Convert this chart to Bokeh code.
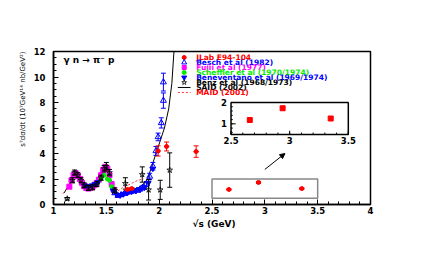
import numpy as np
from bokeh.plotting import figure
from bokeh.models import FixedTicker, Range1d, Label, Arrow, NormalHead, Title
from bokeh.core.properties import value
from bokeh.embed import file_html
from bokeh.resources import INLINE

# ---------------- data ----------------
x_ticks = [1.0, 1.5, 2.0, 2.5, 3.0, 3.5, 4.0]
x_tick_labels = ["1", "1.5", "2", "2.5", "3", "3.5", "4"]
y_ticks = [0, 2, 4, 6, 8, 10, 12]
y_tick_labels = ["0", "2", "4", "6", "8", "10", "12"]

jlab_x = [1.70, 1.74, 1.99, 2.07, 2.35, 2.66, 2.94, 3.35]
jlab_y = [1.18, 1.25, 4.20, 4.55, 4.15, 1.18, 1.73, 1.25]
jlab_e = [0.08, 0.08, 0.40, 0.35, 0.45, 0.05, 0.08, 0.06]

besch_x = [1.58, 1.61, 1.64, 1.67, 1.70, 1.73, 1.76, 1.79, 1.82, 1.85, 1.88, 1.91, 1.94, 1.97, 1.99, 2.02, 2.04, 2.04]
besch_y = [0.90, 0.70, 0.75, 0.85, 0.95, 1.00, 1.05, 1.10, 1.20, 1.35, 1.60, 2.20, 3.00, 4.20, 5.30, 6.40, 8.15, 9.60]
besch_e = [0.10, 0.10, 0.10, 0.10, 0.10, 0.10, 0.10, 0.10, 0.12, 0.15, 0.20, 0.25, 0.30, 0.35, 0.30, 0.40, 0.60, 0.70]

fujii_x = [1.15, 1.17, 1.19, 1.21, 1.23, 1.25, 1.27, 1.29, 1.31, 1.33, 1.35, 1.37, 1.39, 1.41, 1.43, 1.45, 1.47, 1.49, 1.51, 1.53, 1.55, 1.57]
fujii_y = [1.40, 1.90, 2.30, 2.45, 2.25, 2.00, 1.70, 1.45, 1.30, 1.25, 1.30, 1.40, 1.55, 1.70, 1.95, 2.30, 2.70, 2.95, 2.80, 2.30, 1.60, 1.15]
fujii_e = [0.15] * 22

scheffler_x = [1.42, 1.45, 1.48, 1.51, 1.53, 1.55, 1.57]
scheffler_y = [1.70, 2.00, 2.30, 2.00, 1.90, 1.40, 1.10]

benev_x = [1.30, 1.33, 1.36, 1.39, 1.42, 1.56, 1.60, 1.63, 1.66, 1.70, 1.74, 1.78, 1.82, 1.86, 1.90, 1.94]
benev_y = [1.50, 1.45, 1.50, 1.60, 1.75, 1.10, 0.75, 0.70, 0.80, 0.90, 1.00, 1.05, 1.15, 1.30, 1.70, 2.80]

benz_x = [1.13, 1.18, 1.20, 1.23, 1.26, 1.29, 1.33, 1.37, 1.41, 1.45, 1.48, 1.50, 1.53, 1.58, 1.68, 1.84, 1.90, 2.01, 2.10]
benz_y = [0.45, 1.90, 2.50, 2.30, 1.90, 1.50, 1.30, 1.35, 1.60, 2.10, 2.80, 3.00, 2.50, 1.10, 1.65, 2.35, 1.15, 1.15, 2.70]
benz_e = [0.10, 0.20, 0.20, 0.20, 0.20, 0.20, 0.20, 0.20, 0.20, 0.20, 0.25, 0.30, 0.25, 0.20, 0.45, 0.60, 0.80, 0.75, 1.35]

said_x = [1.10, 1.15, 1.20, 1.22, 1.25, 1.30, 1.35, 1.40, 1.45, 1.48, 1.50, 1.53, 1.56, 1.60, 1.65, 1.70, 1.75, 1.80, 1.85, 1.89, 1.93, 1.97, 2.01, 2.05, 2.09, 2.12, 2.14]
said_y = [0.90, 1.60, 2.30, 2.40, 2.10, 1.40, 1.25, 1.50, 2.20, 2.80, 2.90, 2.30, 1.30, 0.80, 0.90, 1.10, 1.20, 1.30, 1.60, 2.00, 3.00, 4.00, 5.00, 6.00, 7.50, 9.50, 12.0]

maid_x = [1.09, 1.14, 1.18, 1.21, 1.24, 1.28, 1.32, 1.36, 1.40, 1.44, 1.48, 1.50, 1.53, 1.56, 1.60, 1.65, 1.70, 1.75, 1.80, 1.85]
maid_y = [0.85, 1.35, 2.00, 2.35, 2.20, 1.65, 1.30, 1.30, 1.60, 2.20, 2.85, 2.95, 2.40, 1.50, 1.00, 1.30, 1.50, 1.70, 1.90, 2.00]

inset_x_ticks = [2.5, 3.0, 3.5]
inset_x_labels = ["2.5", "3", "3.5"]
inset_y_ticks = [1.0, 2.0]
inset_y_labels = ["1", "2"]

legend_labels = ["JLab E94-104", "Besch et al (1982)", "Fujii et al (1977)",
                 "Scheffler et al (1970/1974)", "Beneventano et al (1969/1974)",
                 "Benz et al (1968/1973)", "SAID (2002)", "MAID (2001)"]
legend_colors = ["#ff0000", "#0000ff", "#ff00ff", "#00ee00", "#0000ff", "#000000", "#000000", "#ff0000"]

x_title = "√s (GeV)"
y_title = "s⁷dσ/dt (10⁷GeV¹⁴ nb/GeV²)"
reaction = "γ n → π⁻ p"

# ---------------- layout constants ----------------
FONT = "DejaVu Sans"
X0, X1, Y0, Y1 = 1.0, 4.0, 0.0, 12.0
INS_MX = (2.68, 3.79)
INS_MY = (5.49, 8.0)
INS_X = (2.5, 3.5)
INS_Y = (0.5, 2.0)

p = figure(width=430, height=265, x_range=Range1d(X0, X1), y_range=Range1d(Y0, Y1),
           output_backend="svg", toolbar_location=None,
           min_border_left=53, min_border_right=60, min_border_top=51, min_border_bottom=61,
           background_fill_color="white", border_fill_color="white")
p.grid.visible = False
p.outline_line_color = "black"
p.outline_line_width = 1.5

for ax, ticks, labels in ((p.xaxis, x_ticks, x_tick_labels), (p.yaxis, y_ticks, y_tick_labels)):
    ax.major_tick_in = 5
    ax.major_tick_out = 0
    ax.minor_tick_in = 3
    ax.minor_tick_out = 0
    ax.axis_line_width = 1.5
    ax.major_tick_line_width = 1
    ax.major_label_text_font = FONT
    ax.major_label_text_font_style = "bold"
    ax.major_label_text_font_size = "8.5px"
    ax.major_label_text_color = "black"
    ax.major_label_overrides = {t: l for t, l in zip(ticks, labels)}

p.xaxis.ticker = FixedTicker(ticks=x_ticks, minor_ticks=list(np.round(np.arange(1.0, 4.001, 0.1), 2)))
p.yaxis.ticker = FixedTicker(ticks=y_ticks, minor_ticks=list(np.arange(0, 12.01, 0.5)))
p.xaxis.major_label_standoff = 2
p.yaxis.major_label_standoff = 8

# axis titles as side titles (end-aligned like ROOT)
p.add_layout(Title(text=y_title, align="right", text_font=FONT, text_font_size="7px",
                   text_font_style="normal", text_color="black", standoff=8, offset=0), "left")
p.add_layout(Title(text=x_title, align="left", offset=139, text_font=FONT, text_font_size="9px",
                   text_font_style="bold", text_color="black", standoff=0), "below")

# ---------------- curves ----------------
p.line(said_x, said_y, line_color="black", line_width=1)
p.line(maid_x, maid_y, line_color="#ff0000", line_width=1, line_dash="2 2", line_alpha=0.8)


def errbars(xs, ys, es, color, cap=4, xerr=None):
    lo = [y - e for y, e in zip(ys, es)]
    hi = [y + e for y, e in zip(ys, es)]
    p.segment(xs, lo, xs, hi, line_color=color, line_width=1)
    p.scatter(xs + xs, lo + hi, marker="dash", size=cap, line_color=color, line_width=1)
    if xerr is not None:
        p.segment([x - xerr for x in xs], ys, [x + xerr for x in xs], ys, line_color=color, line_width=1)


errbars(fujii_x, fujii_y, fujii_e, "#ff00ff", cap=3)
p.scatter(fujii_x, fujii_y, marker="square", size=5, fill_color="#ff00ff", line_color="#ff00ff")
p.scatter(scheffler_x, scheffler_y, marker="circle", size=4, fill_color="#00ee00", line_color="#00ee00")
p.scatter(benev_x, benev_y, marker="inverted_triangle", size=5, fill_color="#0000ff", line_color="#0000ff")
errbars(besch_x, besch_y, besch_e, "#0000ff", cap=5)
p.scatter(besch_x, besch_y, marker="triangle", size=6, fill_color="white", fill_alpha=0.0,
          line_color="#0000ff", line_width=1)
errbars(benz_x, benz_y, benz_e, "black", cap=5)
p.scatter(benz_x, benz_y, marker="star", size=6, fill_color="white", fill_alpha=0.0,
          line_color="black", line_width=0.8)
errbars(jlab_x, jlab_y, jlab_e, "#ff0000", cap=5, xerr=0.025)
p.scatter(jlab_x, jlab_y, marker="circle", size=4, fill_color="#ff0000", line_color="#ff0000")

p.quad(left=[INS_X[0]], right=[INS_X[1]], bottom=[INS_Y[0]], top=[INS_Y[1]],
       fill_alpha=0, line_color="#888888", line_width=1.5)

p.add_layout(Arrow(end=NormalHead(size=5, fill_color="black", line_color="black", line_width=1),
                   x_start=3.0, y_start=2.75, x_end=3.19, y_end=4.0, line_width=1, line_color="black"))

# ---------------- inset ----------------
sx = (INS_X[1] - INS_X[0]) / (INS_MX[1] - INS_MX[0])
sy = (INS_Y[1] - INS_Y[0]) / (INS_MY[1] - INS_MY[0])
p.extra_x_ranges = {"ix": Range1d(INS_X[0] - (INS_MX[0] - X0) * sx, INS_X[1] + (X1 - INS_MX[1]) * sx)}
p.extra_y_ranges = {"iy": Range1d(INS_Y[0] - (INS_MY[0] - Y0) * sy, INS_Y[1] + (Y1 - INS_MY[1]) * sy)}
IR = dict(x_range_name="ix", y_range_name="iy")

p.quad(left=[INS_X[0]], right=[INS_X[1]], bottom=[INS_Y[0]], top=[INS_Y[1]],
       fill_color="white", line_color="black", line_width=1.5, **IR)
ix_minor = list(np.round(np.arange(2.5, 3.501, 0.1), 2))
iy_minor = list(np.round(np.arange(0.6, 2.001, 0.2), 2))
p.segment(ix_minor, [INS_Y[0]] * len(ix_minor), ix_minor, [INS_Y[0] + 0.09] * len(ix_minor),
          line_color="black", line_width=1, **IR)
p.segment(inset_x_ticks, [INS_Y[0]] * 3, inset_x_ticks, [INS_Y[0] + 0.18] * 3,
          line_color="black", line_width=1, **IR)
p.segment([INS_X[0]] * len(iy_minor), iy_minor, [INS_X[0] + 0.015] * len(iy_minor), iy_minor,
          line_color="black", line_width=1, **IR)
p.segment([INS_X[0]] * 2, inset_y_ticks, [INS_X[0] + 0.04] * 2, inset_y_ticks,
          line_color="black", line_width=1, **IR)
p.text(inset_x_ticks, [INS_Y[0]] * 3, text=inset_x_labels, text_align="center", text_baseline="top",
       y_offset=2, text_font=value(FONT), text_font_style="bold", text_font_size="8.5px",
       text_color="black", **IR)
p.text([INS_X[0]] * 2, inset_y_ticks, text=inset_y_labels, text_align="right", text_baseline="middle",
       x_offset=-4, text_font=value(FONT), text_font_style="bold", text_font_size="8.5px",
       text_color="black", **IR)
ins_x = jlab_x[5:]
ins_y = jlab_y[5:]
ins_e = jlab_e[5:]
p.segment(ins_x, [y - e for y, e in zip(ins_y, ins_e)], ins_x, [y + e for y, e in zip(ins_y, ins_e)],
          line_color="#ff0000", line_width=1, **IR)
p.scatter(ins_x, ins_y, marker="square", size=5, fill_color="#ff0000", line_color="#ff0000", **IR)

# ---------------- legend (drawn) ----------------
LX_M, LX_T, LY0, LDY = 2.237, 2.35, 11.53, 0.392
ly = [LY0 - i * LDY for i in range(len(legend_labels))]
p.scatter([LX_M], [ly[0]], marker="circle", size=4, fill_color="#ff0000", line_color="#ff0000")
p.scatter([LX_M], [ly[1]], marker="triangle", size=5, fill_alpha=0, line_color="#0000ff")
p.scatter([LX_M], [ly[2]], marker="square", size=4, fill_color="#ff00ff", line_color="#ff00ff")
p.scatter([LX_M], [ly[3]], marker="circle", size=4, fill_color="#00ee00", line_color="#00ee00")
p.scatter([LX_M], [ly[4]], marker="inverted_triangle", size=5, fill_color="#0000ff", line_color="#0000ff")
p.scatter([LX_M], [ly[5]], marker="star", size=5, fill_alpha=0, line_color="black", line_width=0.8)
p.segment([LX_M - 0.06], [ly[6]], [LX_M + 0.06], [ly[6]], line_color="black", line_width=1)
p.segment([LX_M - 0.06], [ly[7]], [LX_M + 0.06], [ly[7]], line_color="#ff0000", line_width=1,
          line_dash="2 2", line_alpha=0.8)
p.text([LX_T] * len(legend_labels), ly, text=legend_labels, text_color=legend_colors,
       text_align="left", text_baseline="middle", text_font=value(FONT), text_font_style="bold",
       text_font_size="7.5px")

# ---------------- reaction label ----------------
p.add_layout(Label(x=1.094, y=11.3, text=reaction, text_font=FONT, text_font_style="bold",
                   text_font_size="9px", text_align="left", text_baseline="middle", text_color="black"))

open("out.html", "w").write(file_html(p, INLINE))
